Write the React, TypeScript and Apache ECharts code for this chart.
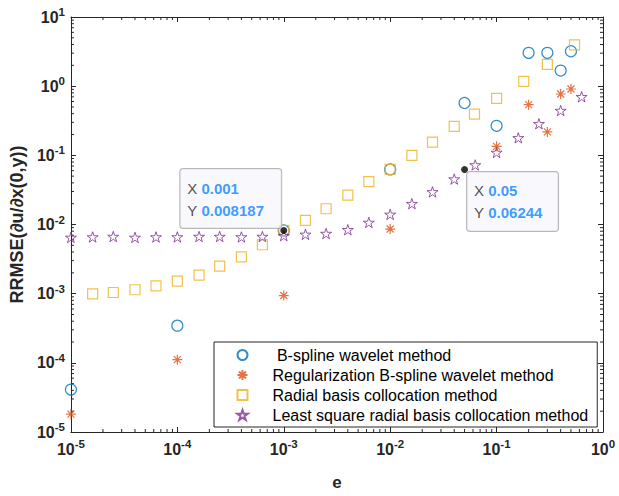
import React, { useEffect, useRef } from "react";
import * as echarts from "echarts";

// B-spline wavelet method
const circleX = [1e-5, 1e-4, 1e-3, 1e-2, 0.05, 0.1, 0.2, 0.3, 0.4, 0.5];
const circleY = [4.1e-5, 3.45e-4, 0.0082, 0.0625, 0.572, 0.267, 3.03, 3.03, 1.68, 3.2];

// Regularization B-spline wavelet method
const asteriskX = [1e-5, 1e-4, 1e-3, 1e-2, 0.1, 0.2, 0.3, 0.4, 0.5];
const asteriskY = [1.81e-5, 1.11e-4, 9.4e-4, 0.0086, 0.135, 0.54, 0.218, 0.77, 0.91];

// Radial basis collocation method
const squareX = [
  1.6e-5, 2.5e-5, 4e-5, 6.3e-5, 1e-4, 1.6e-4, 2.5e-4, 4e-4, 6.3e-4, 1e-3, 1.6e-3, 2.5e-3,
  4e-3, 6.3e-3, 1e-2, 1.6e-2, 2.5e-2, 4e-2, 6.2e-2, 0.1, 0.18, 0.3, 0.54,
];
const squareY = [
  0.00099, 0.00104, 0.00114, 0.0013, 0.00152, 0.00185, 0.0025, 0.0034, 0.0051, 0.0082, 0.0115,
  0.0169, 0.0266, 0.0416, 0.0625, 0.1, 0.155, 0.262, 0.394, 0.667, 1.17, 2.06, 3.95,
];

// Least square radial basis collocation method
const starX = [
  1e-5, 1.6e-5, 2.5e-5, 4e-5, 6.3e-5, 1e-4, 1.6e-4, 2.5e-4, 4e-4, 6.3e-4, 1e-3, 1.6e-3, 2.5e-3,
  4e-3, 6.3e-3, 1e-2, 1.6e-2, 2.5e-2, 4e-2, 6.3e-2, 0.1, 0.16, 0.25, 0.4, 0.63,
];
const starY = [
  0.0065, 0.0066, 0.0067, 0.0065, 0.0066, 0.0066, 0.0067, 0.0067, 0.0066, 0.0067, 0.0069, 0.0072,
  0.0074, 0.0084, 0.0107, 0.014, 0.02, 0.0296, 0.0454, 0.0726, 0.11, 0.179, 0.286, 0.444, 0.703,
];

// Data tips
const tipX = [0.001, 0.05];
const tipY = [0.008187, 0.06244];

const seriesNames = [
  " B-spline wavelet method",
  "Regularization B-spline wavelet method",
  "Radial basis collocation method",
  "Least square radial basis collocation method",
];

const xMin = 1e-5;
const xMax = 1;
const yMin = 1e-5;
const yMax = 10;

const FONT = "'Liberation Sans', Arial, Helvetica, sans-serif";
const AXIS_COLOR = "#262626";

const STAR_PATH =
  "path://M0,-10L2.245,-3.09L9.511,-3.09L3.633,1.18L5.878,8.09L0,3.82L-5.878,8.09L-3.633,1.18L-9.511,-3.09L-2.245,-3.09Z";
const ASTERISK_PATH =
  "path://M0,-10L0,10M-10,0L10,0M-7,-7L7,7M-7,7L7,-7";
const SQUARE_PATH = "path://M-10,-10L10,-10L10,10L-10,10Z";

function zip(xs: number[], ys: number[]) {
  return xs.map((x, i) => [x, ys[i]]);
}

// minor tick positions (2..9 within each decade)
function minorTicks(lo: number, hi: number) {
  const out: number[] = [];
  for (let d = Math.round(Math.log10(lo)); d < Math.round(Math.log10(hi)); d++) {
    for (let k = 2; k <= 9; k++) out.push(k * Math.pow(10, d));
  }
  return out;
}

function powLabel(v: number) {
  const e = Math.round(Math.log10(v));
  return `{b|10}{s|${e}}`;
}

const tickRich = {
  b: { fontSize: 16, fontWeight: "bold", fontFamily: FONT, color: AXIS_COLOR, lineHeight: 22 },
  s: {
    fontSize: 11.5,
    fontWeight: "bold",
    fontFamily: FONT,
    color: AXIS_COLOR,
    lineHeight: 12,
    padding: [0, 0, 10, 0],
  },
};

const tipRich = {
  k: { fontSize: 15, fontFamily: FONT, color: "#262626", lineHeight: 22 },
  v: { fontSize: 15, fontFamily: FONT, fontWeight: "bold", color: "#0a84ff", lineHeight: 22 },
};

export default function App() {
  const ref = useRef<HTMLDivElement>(null);

  useEffect(() => {
    if (!ref.current) return;
    const chart = echarts.init(ref.current, undefined, { renderer: "svg" });

    const axisCommon = {
      type: "log" as const,
      logBase: 10,
      axisLine: { show: true, lineStyle: { color: AXIS_COLOR, width: 1 } },
      axisTick: { show: true, inside: true, length: 5, lineStyle: { color: AXIS_COLOR } },
      splitLine: { show: false },
      minorTick: { show: false },
    };

    const labelCommon = {
      formatter: powLabel,
      rich: tickRich,
      fontSize: 16,
      fontWeight: "bold",
      fontFamily: FONT,
      color: AXIS_COLOR,
    };

    const tickLine = (x1: number, y1: number, x2: number, y2: number) => ({
      type: "line",
      shape: { x1, y1, x2, y2 },
      style: { stroke: AXIS_COLOR, lineWidth: 1 },
    });

    const option: any = {
      animation: false,
      backgroundColor: "#ffffff",
      grid: { left: 69, top: 17, right: 16, bottom: 59, containLabel: false },
      xAxis: [
        {
          ...axisCommon,
          position: "bottom",
          min: xMin,
          max: xMax,
          splitNumber: 5,
          name: "e",
          nameLocation: "middle",
          nameGap: 42,
          nameTextStyle: { fontSize: 17, fontWeight: "bold", fontFamily: FONT, color: AXIS_COLOR },
          axisLabel: { ...labelCommon, margin: 6 },
        },
        {
          ...axisCommon,
          position: "top",
          min: xMin,
          max: xMax,
          splitNumber: 5,
          axisLabel: { show: false },
        },
      ],
      yAxis: [
        {
          ...axisCommon,
          position: "left",
          min: yMin,
          max: yMax,
          splitNumber: 6,
          name: "RRMSE(\u2202u/\u2202x(0,y))",
          nameLocation: "middle",
          nameGap: 42,
          nameRotate: 90,
          nameTextStyle: { fontSize: 18, fontWeight: "bold", fontFamily: FONT, color: AXIS_COLOR },
          axisLabel: { ...labelCommon, margin: 6 },
        },
        {
          ...axisCommon,
          position: "right",
          min: yMin,
          max: yMax,
          splitNumber: 6,
          axisLabel: { show: false },
        },
      ],
      legend: {
        orient: "vertical",
        left: 214,
        top: 342,
        data: seriesNames,
        itemWidth: 50,
        itemHeight: 10,
        itemGap: 4,
        padding: [5, 9, 4, 21],
        borderColor: "#262626",
        borderWidth: 1,
        backgroundColor: "#ffffff",
        textStyle: { fontSize: 16, fontFamily: FONT, color: "#000000", lineHeight: 16 },
        selectedMode: false,
      },
      series: [
        {
          type: "custom",
          name: "xminor",
          silent: true,
          clip: false,
          z: 1,
          data: minorTicks(xMin, xMax).map((v) => [v, 1]),
          renderItem: (params: any, api: any) => {
            const cs = params.coordSys;
            const p = api.coord([api.value(0), 1]);
            return {
              type: "group",
              children: [
                tickLine(p[0], cs.y + cs.height, p[0], cs.y + cs.height - 3),
                tickLine(p[0], cs.y, p[0], cs.y + 3),
              ],
            };
          },
        },
        {
          type: "custom",
          name: "yminor",
          silent: true,
          clip: false,
          z: 1,
          data: minorTicks(yMin, yMax).map((v) => [0.01, v]),
          renderItem: (params: any, api: any) => {
            const cs = params.coordSys;
            const p = api.coord([0.01, api.value(1)]);
            return {
              type: "group",
              children: [
                tickLine(cs.x, p[1], cs.x + 3, p[1]),
                tickLine(cs.x + cs.width, p[1], cs.x + cs.width - 3, p[1]),
              ],
            };
          },
        },
        {
          type: "scatter",
          name: seriesNames[0],
          data: zip(circleX, circleY),
          symbol: "circle",
          symbolSize: 11,
          symbolKeepAspect: true,
          itemStyle: { color: "rgba(0,0,0,0)", borderColor: "#0072BD", borderWidth: 1.2 },
          z: 3,
        },
        {
          type: "scatter",
          name: seriesNames[1],
          data: zip(asteriskX, asteriskY),
          symbol: ASTERISK_PATH,
          symbolSize: 10,
          symbolKeepAspect: true,
          itemStyle: { color: "none", borderColor: "#D95319", borderWidth: 1.2 },
          z: 3,
        },
        {
          type: "scatter",
          name: seriesNames[2],
          data: zip(squareX, squareY),
          symbol: SQUARE_PATH,
          symbolSize: 10,
          symbolKeepAspect: true,
          itemStyle: { color: "rgba(0,0,0,0)", borderColor: "#EDB120", borderWidth: 1.2 },
          z: 3,
        },
        {
          type: "scatter",
          name: seriesNames[3],
          data: zip(starX, starY),
          symbol: STAR_PATH,
          symbolSize: 11,
          symbolKeepAspect: true,
          itemStyle: { color: "rgba(0,0,0,0)", borderColor: "#7E2F8E", borderWidth: 1 },
          z: 3,
        },
        {
          type: "scatter",
          name: "datatip",
          symbol: "circle",
          symbolSize: 7,
          itemStyle: { color: "#000000" },
          z: 5,
          data: tipX.map((x, i) => ({
            value: [x, tipY[i]],
            label: {
              show: true,
              position: i === 0 ? [-100, -58] : [6, 6],
              formatter: `{k|X }{v|${tipX[i]}}\n{k|Y }{v|${tipY[i]}}`,
              rich: tipRich,
              width: i === 0 ? 87 : 77,
              height: 44,
              padding: [8, 7, 7, 7],
              backgroundColor: "#f7f8fd",
              borderColor: "#a5a5a5",
              borderWidth: 1,
              borderRadius: 3,
            },
          })),
        },
      ],
    };

    chart.setOption(option);
    return () => chart.dispose();
  }, []);

  return (
    <div
      ref={ref}
      style={{ position: "fixed", left: 0, top: 0, width: 619, height: 496, background: "#fff" }}
    />
  );
}
